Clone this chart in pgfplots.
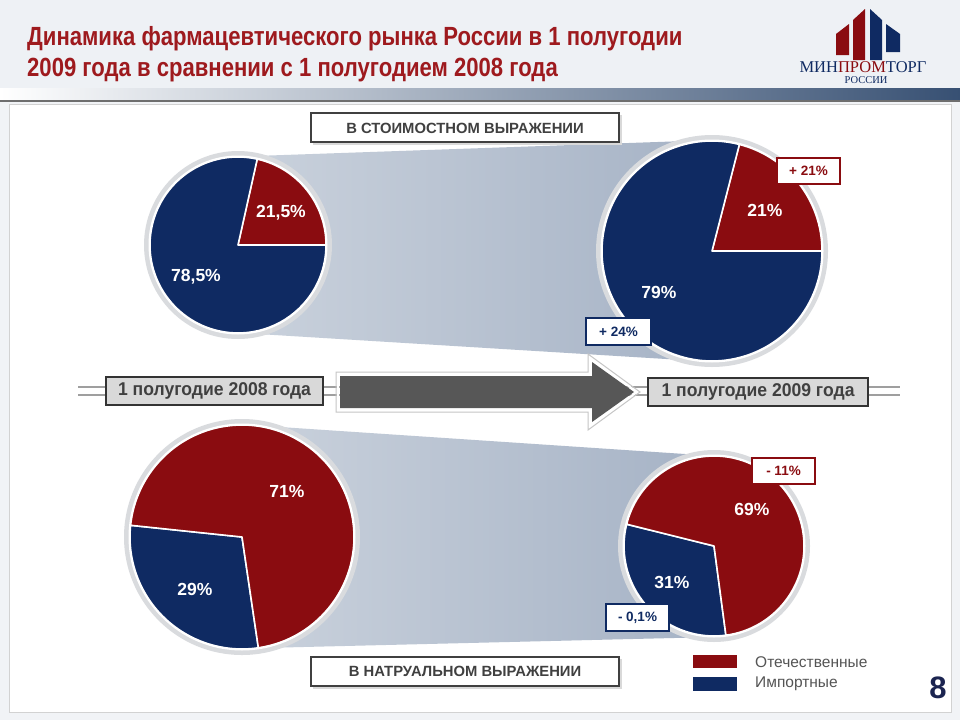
\documentclass[border=0pt]{standalone}
\usepackage{pgfplots}
\pgfplotsset{compat=1.18}
\usepackage{fontspec}
\setmainfont{Liberation Sans}
\newfontfamily\narrow[FakeStretch=0.84]{Liberation Sans}
\newfontfamily\midfont[FakeStretch=0.95]{Liberation Sans}
\newfontfamily\logofont{Liberation Serif}
\definecolor{pred}{HTML}{8A0C10}
\definecolor{pblue}{HTML}{0F2A62}
\definecolor{ttl}{HTML}{9E1A1E}
\definecolor{rim}{HTML}{D9DBDE}
\definecolor{bandL}{HTML}{C9D1DC}
\definecolor{bandR}{HTML}{A5B2C5}
\definecolor{txtg}{HTML}{404040}
\definecolor{bgpage}{HTML}{F1F3F6}
\definecolor{bghead}{HTML}{EEF1F5}
\definecolor{darkline}{HTML}{6E6E6E}
\definecolor{boxfill}{HTML}{D9D9D9}
\definecolor{boxdraw}{HTML}{333333}
\definecolor{arrowc}{HTML}{575757}
\definecolor{legtxt}{HTML}{555555}
\definecolor{pagenum}{HTML}{1B2450}
% pie slice: cx, cy, r, start angle, percent, colour
\newcommand{\slice}[6]{%
  \fill[#6, draw=white, line width=1.6pt, line join=round] (axis cs:#1,#2) -- ++(#4:#3pt)
    arc[start angle=#4, end angle={#4+3.6*#5}, radius=#3pt] -- cycle;}
\newcommand{\rimc}[3]{%
  \fill[rim] (axis cs:#1,#2) circle[radius=#3pt+6pt];
  \fill[white] (axis cs:#1,#2) circle[radius=#3pt+1.5pt];}
\begin{document}
\begin{tikzpicture}
\begin{axis}[x=1pt, y=1pt, xmin=0, xmax=960, ymin=0, ymax=720, y dir=reverse,
  hide axis, scale only axis, clip=true]
% backgrounds
\fill[bgpage] (axis cs:0,0) rectangle (axis cs:960,720);
\fill[bghead] (axis cs:0,0) rectangle (axis cs:960,88);
\shade[left color=white, right color={rgb,255:red,55;green,80;blue,115}] (axis cs:0,88) rectangle (axis cs:960,100);
\fill[darkline] (axis cs:0,100) rectangle (axis cs:960,102);
\fill[white, draw=gray!35, line width=1pt] (axis cs:9,104) rectangle (axis cs:951,712);
% title
\node[anchor=base west, text=ttl, font=\narrow\bfseries\fontsize{26.3}{30}\selectfont, inner sep=0pt] at (axis cs:27,45) {Динамика фармацевтического рынка России в 1 полугодии};
\node[anchor=base west, text=ttl, font=\narrow\bfseries\fontsize{26.3}{30}\selectfont, inner sep=0pt] at (axis cs:27,76) {2009 года в сравнении с 1 полугодием 2008 года};
% logo
\fill[pred] (axis cs:836,55) -- (axis cs:836,34) -- (axis cs:849,24) -- (axis cs:849,55) -- cycle;
\fill[pred] (axis cs:853,60) -- (axis cs:853,20) -- (axis cs:865,9) -- (axis cs:865,60) -- cycle;
\fill[pblue] (axis cs:870,60) -- (axis cs:870,9) -- (axis cs:882,20) -- (axis cs:882,60) -- cycle;
\fill[pblue] (axis cs:886,52) -- (axis cs:886,24) -- (axis cs:900,34) -- (axis cs:900,52) -- cycle;
\node[anchor=base, font=\logofont\fontsize{16.5}{17}\selectfont, inner sep=0pt, text=pblue] at (axis cs:863,72) {МИН\textcolor{pred}{ПРОМ}ТОРГ};
\node[anchor=base, font=\logofont\fontsize{10.5}{11}\selectfont, inner sep=0pt, text=pblue] at (axis cs:866,83) {РОССИИ};
% connector bands
\shade[left color=bandL, right color=bandR] (axis cs:255,156) -- (axis cs:715,140) -- (axis cs:715,362) -- (axis cs:258,334) -- cycle;
\shade[left color=bandL, right color=bandR] (axis cs:265,426) -- (axis cs:715,456) -- (axis cs:715,637) -- (axis cs:262,648) -- cycle;
% section boxes
\fill[gray!30] (axis cs:313,115) rectangle (axis cs:622,145);
\fill[white, draw=txtg, line width=1.4pt] (axis cs:311,113) rectangle (axis cs:619,142);
\node[font=\bfseries\fontsize{14.8}{16}\selectfont, text=txtg] at (axis cs:465,128) {В СТОИМОСТНОМ ВЫРАЖЕНИИ};
\fill[gray!30] (axis cs:313,659) rectangle (axis cs:622,689);
\fill[white, draw=txtg, line width=1.4pt] (axis cs:311,657) rectangle (axis cs:619,686);
\node[font=\bfseries\fontsize{14.8}{16}\selectfont, text=txtg] at (axis cs:465,671) {В НАТРУАЛЬНОМ ВЫРАЖЕНИИ};
% pies (values in percent)
\rimc{238}{245}{88}
\slice{238}{245}{88}{0}{21.5}{pred}
\slice{238}{245}{88}{77.4}{78.5}{pblue}
\rimc{712}{251}{110}
\slice{712}{251}{110}{0}{21}{pred}
\slice{712}{251}{110}{75.6}{79}{pblue}
\rimc{242}{537}{112}
\slice{242}{537}{112}{174}{29}{pblue}
\slice{242}{537}{112}{278.4}{71}{pred}
\rimc{714}{546}{90}
\slice{714}{546}{90}{166}{31}{pblue}
\slice{714}{546}{90}{277.6}{69}{pred}
% slice labels
\tikzset{pl/.style={text=white, font=\bfseries\fontsize{17.5}{19}\selectfont}}
\node[pl] at (axis cs:281,213) {21,5\%};
\node[pl] at (axis cs:196,277) {78,5\%};
\node[pl] at (axis cs:765,210) {21\%};
\node[pl] at (axis cs:659,292) {79\%};
\node[pl] at (axis cs:287,491) {71\%};
\node[pl] at (axis cs:195,589) {29\%};
\node[pl] at (axis cs:752,509) {69\%};
\node[pl] at (axis cs:672,582) {31\%};
% change boxes
\tikzset{cb/.style={fill=white, draw=#1, line width=1.6pt}}
\tikzset{cbt/.style={text=#1, font=\bfseries\fontsize{13.5}{15}\selectfont}}
\draw[cb=pred] (axis cs:777,158) rectangle (axis cs:840,184);
\node[cbt=pred] at (axis cs:808.5,171) {+ 21\%};
\draw[cb=pblue] (axis cs:586,318) rectangle (axis cs:651,345);
\node[cbt=pblue] at (axis cs:618.5,331.5) {+ 24\%};
\draw[cb=pred] (axis cs:752,458) rectangle (axis cs:815,484);
\node[cbt=pred] at (axis cs:783.5,471) {- 11\%};
\draw[cb=pblue] (axis cs:606,604) rectangle (axis cs:669,631);
\node[cbt=pblue] at (axis cs:637.5,617.5) {- 0,1\%};
% middle timeline
\draw[gray!75, line width=2pt] (axis cs:78,387) -- (axis cs:900,387);
\draw[gray!75, line width=2pt] (axis cs:78,395) -- (axis cs:900,395);
\fill[boxfill, draw=boxdraw, line width=1.4pt] (axis cs:106,377) rectangle (axis cs:323,405);
\node[font=\midfont\bfseries\fontsize{18.5}{20}\selectfont, text=txtg] at (axis cs:214.5,391) {1 полугодие 2008 года};
\fill[boxfill, draw=boxdraw, line width=1.4pt] (axis cs:648,378) rectangle (axis cs:868,406);
\node[font=\midfont\bfseries\fontsize{18.5}{20}\selectfont, text=txtg] at (axis cs:758,392) {1 полугодие 2009 года};
\fill[arrowc] (axis cs:340,376) -- (axis cs:592,376) -- (axis cs:592,362) -- (axis cs:634,392) -- (axis cs:592,422) -- (axis cs:592,408) -- (axis cs:340,408) -- cycle;
\draw[white, line width=2pt, line join=miter] (axis cs:338,374) -- (axis cs:590,374) -- (axis cs:590,358) -- (axis cs:637,392) -- (axis cs:590,426) -- (axis cs:590,410) -- (axis cs:338,410) -- cycle;
\draw[gray!45, line width=1pt] (axis cs:336,372) -- (axis cs:588,372) -- (axis cs:588,354) -- (axis cs:640,392) -- (axis cs:588,430) -- (axis cs:588,412) -- (axis cs:336,412) -- cycle;
% legend
\fill[pred] (axis cs:693,655) rectangle (axis cs:737,668);
\fill[pblue] (axis cs:693,677) rectangle (axis cs:737,691);
\node[anchor=west, text=legtxt, font=\fontsize{15.5}{16}\selectfont, inner sep=0pt] at (axis cs:755,662) {Отечественные};
\node[anchor=west, text=legtxt, font=\fontsize{15.5}{16}\selectfont, inner sep=0pt] at (axis cs:755,684) {Импортные};
% page number
\node[text=pagenum, font=\bfseries\fontsize{31}{32}\selectfont] at (axis cs:938,688) {8};
\end{axis}
\end{tikzpicture}
\end{document}
